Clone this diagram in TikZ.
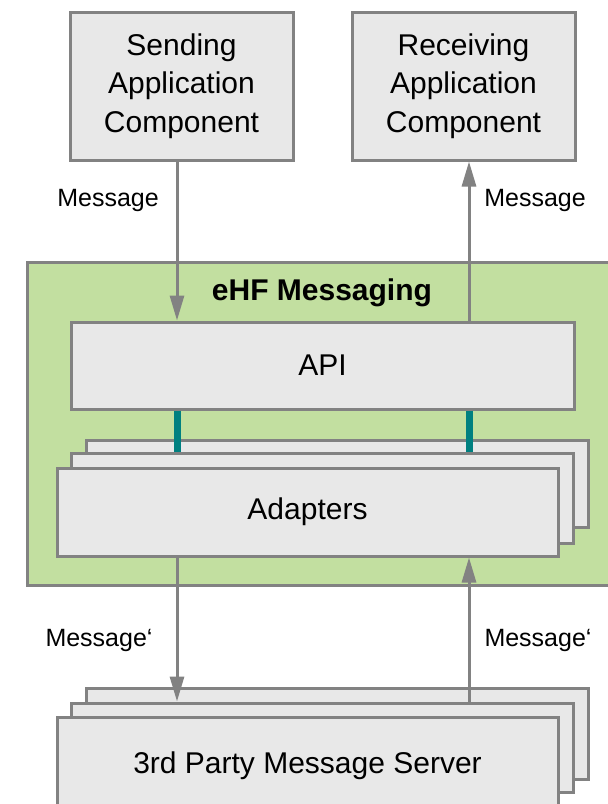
\documentclass[tikz,border=0pt]{standalone}
\usepackage{fontspec}
\setmainfont{Liberation Sans}
\usetikzlibrary{arrows.meta}
\definecolor{linegray}{RGB}{130,130,130}
\definecolor{boxfill}{RGB}{232,232,232}
\definecolor{ehfgreen}{RGB}{194,223,160}
\definecolor{tealc}{RGB}{0,128,128}
\tikzset{
  box/.style={draw=linegray, line width=3pt, fill=boxfill, rectangle, inner sep=0pt,
    align=center, font=\fontsize{30}{38.5}\selectfont},
  grn/.style={draw=linegray, line width=3pt, fill=ehfgreen, rectangle, inner sep=0pt},
  arr/.style={draw=linegray, line width=3pt, -{Triangle[length=25pt,width=14pt]}},
  tealline/.style={draw=tealc, line width=7pt},
  lbl/.style={font=\fontsize{25}{30}\selectfont, inner sep=0pt},
  ttl/.style={font=\fontsize{30}{36}\selectfont\bfseries, inner sep=0pt}
}
\begin{document}
\begin{tikzpicture}[x=1pt,y=-1pt]
\clip (0,0) rectangle (608,804);
\fill[white] (0,0) rectangle (608,804);
% top boxes
\node[box, minimum width=223pt, minimum height=148pt] (send) at (181.5,86) {Sending\\Application\\Component};
\node[box, minimum width=223pt, minimum height=148pt] (recv) at (463.5,86) {Receiving\\Application\\Component};
% green container
\node[grn, minimum width=600pt, minimum height=323pt] (ehf) at (327,423.5) {};
\node[ttl] (ehft) at (322,293) {eHF Messaging};
% API
\node[box, minimum width=503pt, minimum height=87pt] (api) at (322.5,365.5) {API};
% adapters stack
\node[box, minimum width=502pt, minimum height=87pt] (ad3) at (337,483.5) {};
\node[box, minimum width=502pt, minimum height=90pt] (ad2) at (322,498) {};
\node[box, minimum width=501pt, minimum height=88pt] (ad1) at (307.5,512) {Adapters};
% server stack
\node[box, minimum width=502pt, minimum height=91pt] (sv3) at (337,733.5) {};
\node[box, minimum width=502pt, minimum height=89pt] (sv2) at (322,747.5) {};
\node[box, minimum width=501pt, minimum height=98pt] (sv1) at (307.5,766) {3rd Party Message Server};
% arrow columns
\coordinate (cl) at (177,0);
\coordinate (cr) at (469,0);
% teal links
\draw[tealline] (api.south -| cl) -- (ad2.north -| cl);
\draw[tealline] (api.south -| cr) -- (ad2.north -| cr);
% arrows
\draw[arr] (send.south -| cl) -- (api.north -| cl);
\draw[arr] (api.north -| cr) -- (recv.south -| cr);
\draw[arr] (ad1.south -| cl) -- (sv2.north -| cl);
\draw[arr] (sv2.north -| cr) -- (ad1.south -| cr);
% labels
\node[lbl] (m1) at (108,200) {Message};
\node[lbl] (m2) at (535,200) {Message};
\node[lbl] (m3) at (99,640) {Message‘};
\node[lbl] (m4) at (538,640) {Message‘};
\end{tikzpicture}
\end{document}
